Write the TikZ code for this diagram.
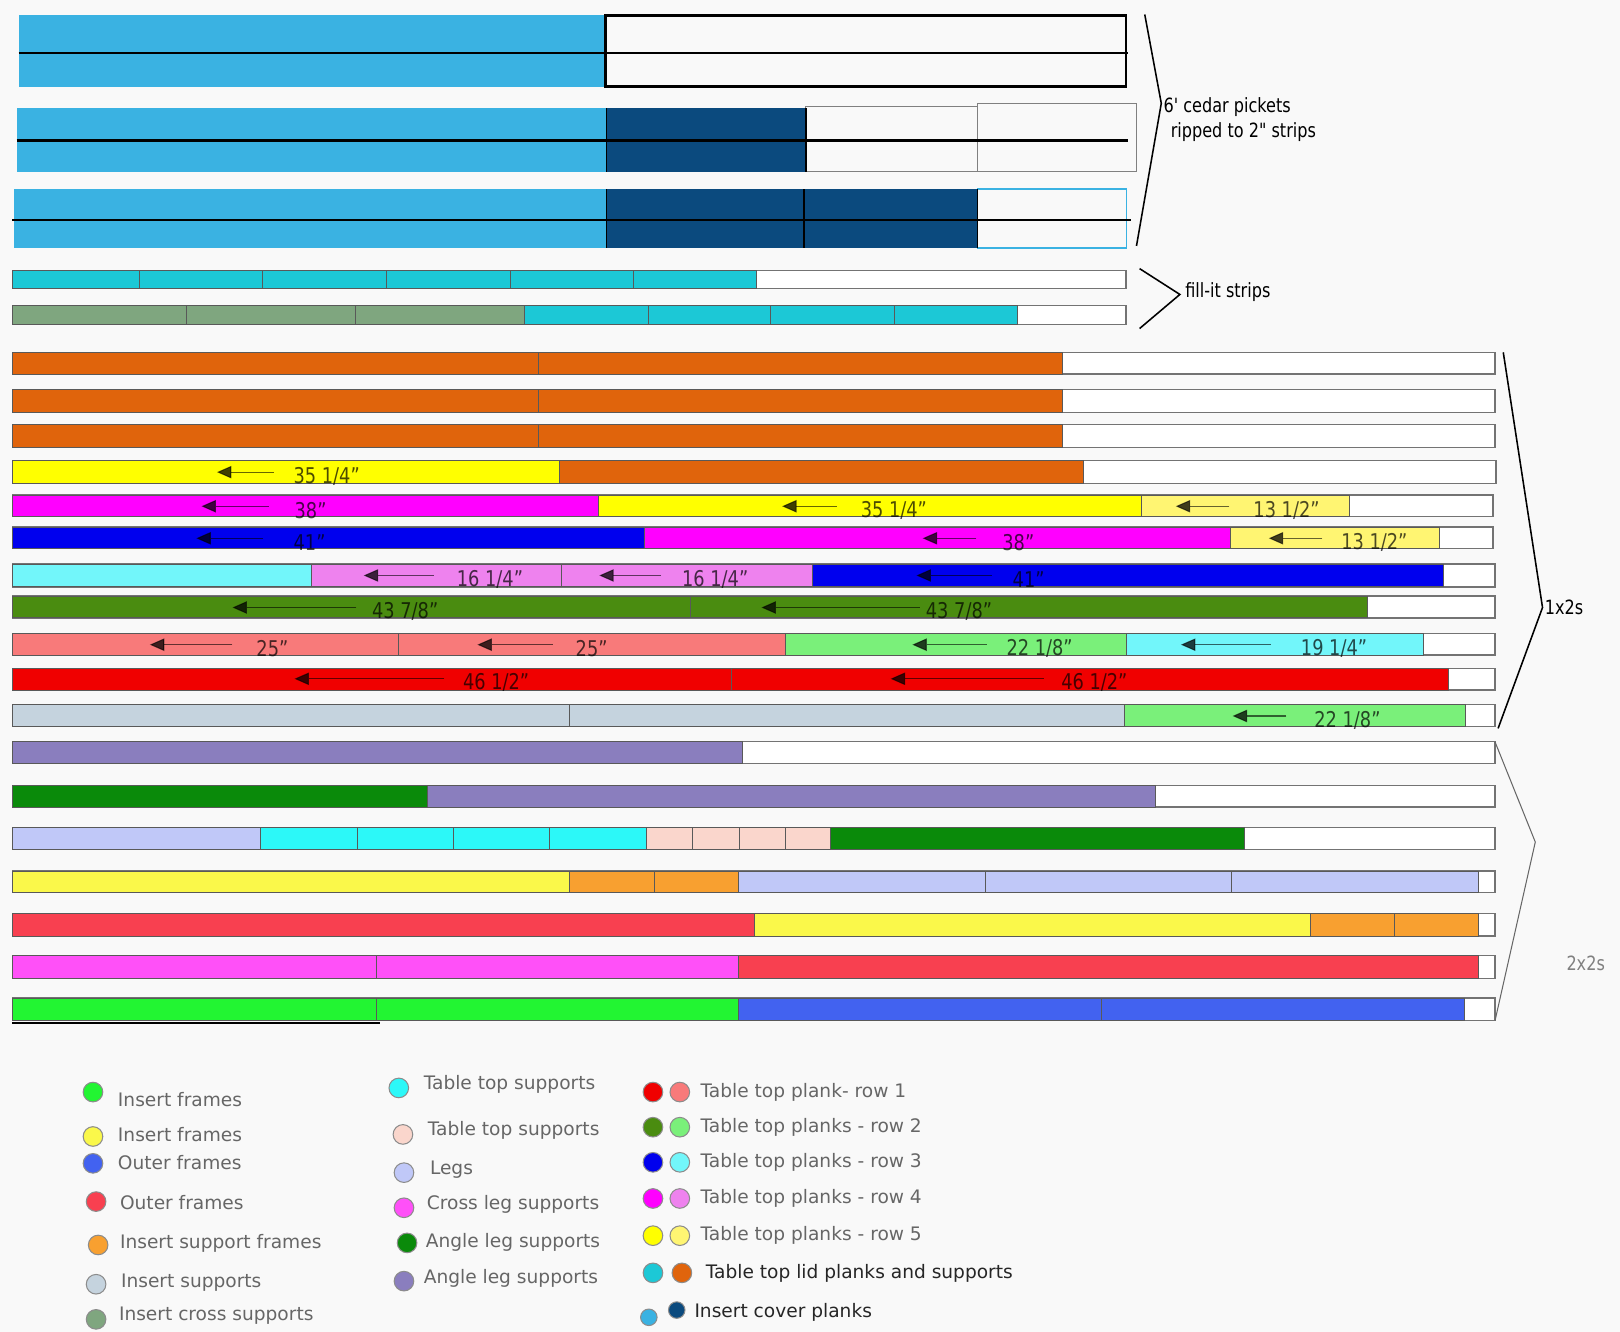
\documentclass[tikz,border=0pt]{standalone}
\usepackage{fontspec}
\setmainfont{DejaVu Sans}
\newfontfamily\narrowfont[FakeStretch=0.82]{DejaVu Sans}
\usetikzlibrary{arrows.meta}

\definecolor{paper}{HTML}{F9F9F9}
\definecolor{picketblue}{HTML}{3AB2E2}
\definecolor{covernavy}{HTML}{0B4A7E}
\definecolor{lidcyan}{HTML}{1CC8D6}
\definecolor{crossgreen}{HTML}{7FA67F}
\definecolor{lidorange}{HTML}{E0640C}
\definecolor{rowyellow}{HTML}{FFFF00}
\definecolor{paleyellow}{HTML}{FFF572}
\definecolor{rowmagenta}{HTML}{FF00FF}
\definecolor{lightmagenta}{HTML}{EE82EE}
\definecolor{rowblue}{HTML}{0000EE}
\definecolor{lightcyan}{HTML}{72F6FA}
\definecolor{grassgreen}{HTML}{4A8C10}
\definecolor{lightgreen}{HTML}{7AF07A}
\definecolor{salmon}{HTML}{F87A7A}
\definecolor{rowred}{HTML}{F00000}
\definecolor{insertgray}{HTML}{C5D3DE}
\definecolor{anglepurple}{HTML}{8A7EBE}
\definecolor{anglegreen}{HTML}{0A8A0A}
\definecolor{lavender}{HTML}{C0C8F8}
\definecolor{topcyan}{HTML}{2CF8F8}
\definecolor{peach}{HTML}{FAD6CC}
\definecolor{insertyellow}{HTML}{FAF84A}
\definecolor{insertorange}{HTML}{F8A030}
\definecolor{outerred}{HTML}{F84050}
\definecolor{crossmagenta}{HTML}{FF50F8}
\definecolor{insertgreen}{HTML}{22F532}
\definecolor{outerblue}{HTML}{4262F0}

\tikzset{
  board/.style={draw=black!55, line width=1.3pt, fill=white},
  piece/.style={draw=black!65, line width=0.7pt},
  split/.style={draw=black, line width=2pt},
  measure/.style={draw=black, draw opacity=0.6, fill opacity=0.75, line width=1pt,
    -{Triangle[length=14pt,width=12pt]}},
  cutlabel/.style={font=\narrowfont\fontsize{21}{21}\selectfont, text=black,
    text opacity=0.7, inner sep=0pt, anchor=west},
  note/.style={font=\narrowfont\fontsize{19}{22}\selectfont, inner sep=0pt, anchor=west},
  dot/.style={circle, draw=black!45, line width=1pt, minimum size=19pt, inner sep=0pt},
  key/.style={font=\fontsize{18}{20}\selectfont, text=black!60, inner sep=0pt, anchor=west},
}

% one board: top, bottom, end of board, pieces x1/x2/colour
\newcommand{\lumber}[4]{%
  \draw[board] (12,#1) rectangle (#3,#2);
  \foreach \a/\b/\c in {#4} \draw[piece,fill=\c] (\a,#1) rectangle (\b,#2);
}
% one cut: centre y, arrow tip x, arrow tail x, text x, text
\newcommand{\cutmark}[5]{%
  \draw[measure] (#3,#1) -- (#2,#1);
  \node[cutlabel] (cut-#4-#1) at (#4,#1+4) {#5};
}

\begin{document}
\begin{tikzpicture}[x=1pt,y=-1pt]
  \fill[paper] (0,0) rectangle (1568,1289);
  \useasboundingbox (0,0) rectangle (1568,1289);

  % cedar pickets
  \fill[picketblue] (18,15) rectangle (586,84);
  \draw[black, line width=2.5pt] (586,15) rectangle (1090,84);
  \draw[split] (18,51) -- (1092,51);

  \fill[picketblue] (16,105) rectangle (587,166);
  \fill[covernavy] (587,105) rectangle (780,166);
  \draw[black!50, line width=1pt] (780,103) rectangle (946,166);
  \draw[black!50, line width=1pt] (946,100) rectangle (1100,166);
  \draw[split] (16,136) -- (1092,136);
  \draw[black, line width=1.5pt] (587,105) -- (587,166) (780,105) -- (780,166);

  \fill[picketblue] (14,183) rectangle (587,240);
  \fill[covernavy] (587,183) rectangle (946,240);
  \draw[picketblue, line width=1.2pt] (946,183) rectangle (1090,240);
  \draw[split] (12,213) -- (1095,213);
  \draw[black, line width=1.5pt] (587,183) -- (587,240) (778,183) -- (778,240) (946,183) -- (946,240);

  \draw[black, line width=1.5pt] (1108,14) -- (1124,100) -- (1100,238);
  \node[note] (pickets) at (1126,104) {6' cedar pickets};
  \node[note] (ripped) at (1133,128) {ripped to 2" strips};

  % fill-it strips
  \lumber{262}{279}{1090}{12/135/lidcyan,135/254/lidcyan,254/374/lidcyan,374/494/lidcyan,494/613/lidcyan,613/732/lidcyan}
  \lumber{296}{314}{1090}{12/180/crossgreen,180/344/crossgreen,344/508/crossgreen,508/628/lidcyan,628/746/lidcyan,746/866/lidcyan,866/985/lidcyan}
  \draw[black, line width=1.5pt] (1103,260) -- (1142,285) -- (1103,318);
  \node[note] (fillit) at (1147,283) {fill-it strips};

  % 1x2s
  \lumber{341}{362}{1447}{12/521/lidorange,521/1028/lidorange}
  \lumber{377}{399}{1447}{12/521/lidorange,521/1028/lidorange}
  \lumber{411}{433}{1447}{12/521/lidorange,521/1028/lidorange}
  \lumber{446}{468}{1448}{12/541/rowyellow,541/1049/lidorange}
  \cutmark{457}{210}{265}{284}{35 1/4”}
  \lumber{479}{500}{1445}{12/579/rowmagenta,579/1105/rowyellow,1105/1306/paleyellow}
  \cutmark{490}{195}{260}{285}{38”}
  \cutmark{490}{757}{810}{833}{35 1/4”}
  \cutmark{490}{1138}{1190}{1213}{13 1/2”}
  \lumber{510}{531}{1445}{12/624/rowblue,624/1191/rowmagenta,1191/1393/paleyellow}
  \cutmark{521}{190}{255}{284}{41”}
  \cutmark{521}{893}{945}{970}{38”}
  \cutmark{521}{1228}{1280}{1298}{13 1/2”}
  \lumber{546}{568}{1447}{12/301/lightcyan,301/543/lightmagenta,543/786/lightmagenta,786/1397/rowblue}
  \cutmark{557}{352}{420}{442}{16 1/4”}
  \cutmark{557}{580}{640}{660}{16 1/4”}
  \cutmark{557}{887}{960}{980}{41”}
  \lumber{577}{598}{1447}{12/668/grassgreen,668/1323/grassgreen}
  \cutmark{588}{225}{345}{360}{43 7/8”}
  \cutmark{588}{737}{890}{896}{43 7/8”}
  \lumber{613}{634}{1447}{12/386/salmon,386/760/salmon,760/1090/lightgreen,1090/1378/lightcyan}
  \cutmark{624}{145}{225}{248}{25”}
  \cutmark{624}{462}{535}{557}{25”}
  \cutmark{624}{883}{955}{974}{22 1/8”}
  \cutmark{624}{1143}{1230}{1259}{19 1/4”}
  \lumber{647}{668}{1447}{12/708/rowred,708/1402/rowred}
  \cutmark{657}{285}{430}{448}{46 1/2”}
  \cutmark{657}{862}{1010}{1027}{46 1/2”}
  \lumber{682}{703}{1447}{12/551/insertgray,551/1088/insertgray,1088/1418/lightgreen}
  \cutmark{693}{1193}{1245}{1272}{22 1/8”}
  \draw[black, line width=1.5pt] (1455,341) -- (1493,588) -- (1450,705);
  \node[note] (onebytwo) at (1495,588) {1x2s};

  % 2x2s
  \lumber{718}{739}{1447}{12/719/anglepurple}
  \lumber{760}{781}{1447}{12/414/anglegreen,414/1118/anglepurple}
  \lumber{801}{822}{1447}{12/252/lavender,252/346/topcyan,346/439/topcyan,439/532/topcyan,532/626/topcyan,626/670/peach,670/716/peach,716/760/peach,760/804/peach,804/1204/anglegreen}
  \lumber{843}{864}{1447}{12/551/insertyellow,551/633/insertorange,633/715/insertorange,715/954/lavender,954/1192/lavender,1192/1431/lavender}
  \lumber{884}{906}{1447}{12/730/outerred,730/1268/insertyellow,1268/1350/insertorange,1350/1431/insertorange}
  \lumber{925}{947}{1447}{12/364/crossmagenta,364/715/crossmagenta,715/1431/outerred}
  \lumber{966}{988}{1447}{12/364/insertgreen,364/715/insertgreen,715/1066/outerblue,1066/1417/outerblue}
  \draw[black, line width=2.5pt] (12,990) -- (368,990);
  \draw[black!60, line width=1pt] (1447,718) -- (1486,815) -- (1447,988);
  \node[note, text=black!50] (twobytwo) at (1516,932) {2x2s};

  % legend
  \foreach \i/\x/\y/\tx/\ty/\c/\t in {%
      1/90/1057/114/1064/insertgreen/Insert frames,
      2/90/1100/114/1098/insertyellow/Insert frames,
      3/90/1126/114/1125/outerblue/Outer frames,
      4/93/1163/116/1164/outerred/Outer frames,
      5/95/1205/116/1203/insertorange/Insert support frames,
      6/93/1243/117/1241/insertgray/Insert supports,
      7/93/1277/115/1273/crossgreen/Insert cross supports,
      8/386/1053/410/1050/topcyan/Table top supports,
      9/390/1098/414/1094/peach/Table top supports,
      10/391/1135/416/1132/lavender/Legs,
      11/391/1169/413/1166/crossmagenta/Cross leg supports,
      12/394/1203/412/1202/anglegreen/Angle leg supports,
      13/391/1240/410/1237/anglepurple/Angle leg supports}{
    \node[dot, fill=\c] (dot\i) at (\x,\y) {};
    \node[key] (key\i) at (\tx,\ty) {\t};
  }
  \foreach \i/\y/\c/\d/\t in {%
      1/1057/rowred/salmon/Table top plank- row 1,
      2/1091/grassgreen/lightgreen/Table top planks - row 2,
      3/1125/rowblue/lightcyan/Table top planks - row 3,
      4/1160/rowmagenta/lightmagenta/Table top planks - row 4,
      5/1196/rowyellow/paleyellow/Table top planks - row 5}{
    \node[dot, fill=\c] (pair\i a) at (632,\y) {};
    \node[dot, fill=\d] (pair\i b) at (658,\y) {};
    \node[key] (pairkey\i) at (678,\y) {\t};
  }
  \node[dot, fill=lidcyan] (lid a) at (632,1232) {};
  \node[dot, fill=lidorange] (lid b) at (660,1232) {};
  \node[key, text=black!85] (lidkey) at (683,1232) {Table top lid planks and supports};
  \node[dot, fill=picketblue, minimum size=16pt] (cover a) at (628,1275) {};
  \node[dot, fill=covernavy, minimum size=16pt] (cover b) at (655,1268) {};
  \node[key, text=black!85] (coverkey) at (672,1270) {Insert cover planks};
\end{tikzpicture}
\end{document}
